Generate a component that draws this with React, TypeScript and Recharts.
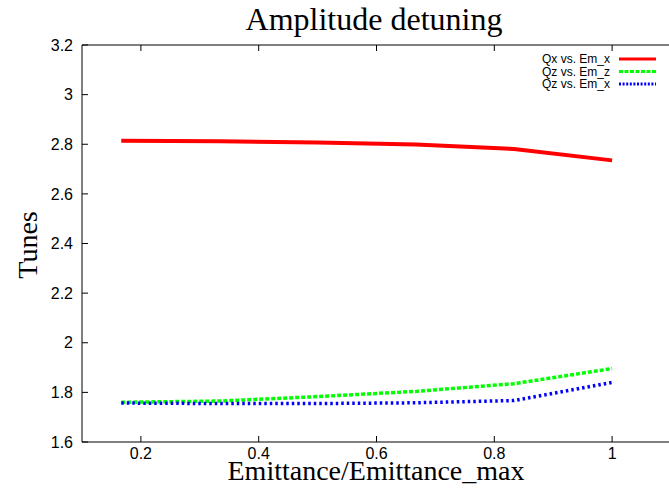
import { LineChart, Line, XAxis, YAxis } from 'recharts'

// emittance ratio (k/6)
const emittance = [1 / 6, 2 / 6, 3 / 6, 4 / 6, 5 / 6, 1]
const qxVsEmx = [2.814, 2.812, 2.807, 2.799, 2.781, 2.735]
const qzVsEmz = [1.76, 1.765, 1.783, 1.804, 1.835, 1.896]
const qzVsEmx = [1.757, 1.755, 1.755, 1.758, 1.767, 1.84]

const xTicks = [0.2, 0.4, 0.6, 0.8, 1]
const yTicks = [1.6, 1.8, 2, 2.2, 2.4, 2.6, 2.8, 3, 3.2]

const seriesNames = ['Qx vs. Em_x', 'Qz vs. Em_z', 'Qz vs. Em_x']
const seriesColors = ['#ff0000', '#00ff00', '#0000ff']
const seriesDash = [undefined, '4 2', '2.5 3']
const legendDash = [undefined, '4 1.5', '2 1.6']

const data = emittance.map((e, i) => ({
  e,
  qx: qxVsEmx[i],
  qzz: qzVsEmz[i],
  qzx: qzVsEmx[i]
}))

const tickFont = { fontSize: 16, fontFamily: '"Liberation Sans", Arial, sans-serif', fill: '#000' }
const serif = '"Liberation Serif", "Times New Roman", serif'

export default function App() {
  return (
    <div style={{ position: 'fixed', left: 0, top: 0, width: 669, height: 489, overflow: 'hidden', background: '#fff' }}>
      <LineChart
        width={680}
        height={489}
        data={data}
        margin={{ top: 44, right: 8, left: 0, bottom: 0 }}
      >
        <XAxis
          dataKey="e"
          type="number"
          domain={[0.1, 1.1]}
          ticks={xTicks}
          height={47}
          tick={tickFont}
          tickSize={-6}
          tickMargin={12}
          stroke="#000"
          allowDataOverflow
        />
        <XAxis
          xAxisId="top"
          orientation="top"
          dataKey="e"
          type="number"
          domain={[0.1, 1.1]}
          ticks={xTicks}
          height={1}
          tickFormatter={() => ''}
          tickSize={-6}
          stroke="#000"
        />
        <YAxis
          type="number"
          domain={[1.6, 3.2]}
          ticks={yTicks}
          width={82}
          tick={tickFont}
          tickSize={-6}
          tickMargin={15}
          stroke="#000"
          allowDataOverflow
        />
        <YAxis
          yAxisId="right"
          orientation="right"
          type="number"
          domain={[1.6, 3.2]}
          ticks={yTicks}
          width={1}
          tickFormatter={() => ''}
          tickSize={-6}
          stroke="#000"
        />
        <Line dataKey="qx" stroke={seriesColors[0]} strokeWidth={4} dot={false} type="linear" isAnimationActive={false} />
        <Line dataKey="qzz" stroke={seriesColors[1]} strokeWidth={3.5} strokeDasharray={seriesDash[1]} dot={false} type="linear" isAnimationActive={false} />
        <Line dataKey="qzx" stroke={seriesColors[2]} strokeWidth={3.5} strokeDasharray={seriesDash[2]} dot={false} type="linear" isAnimationActive={false} />
      </LineChart>
      <svg width={669} height={489} style={{ position: 'absolute', left: 0, top: 0, pointerEvents: 'none' }}>
        <text x={374} y={30} textAnchor="middle" fontFamily={serif} fontSize={32}>Amplitude detuning</text>
        <text x={376} y={480} textAnchor="middle" fontFamily={serif} fontSize={28}>Emittance/Emittance_max</text>
        <text transform="translate(37,245) rotate(-90)" textAnchor="middle" fontFamily={serif} fontSize={28}>Tunes</text>
        {seriesNames.map((name, i) => (
          <g key={name}>
            <text x={610} y={63 + i * 12.5} textAnchor="end" fontFamily='"Liberation Sans", Arial, sans-serif' fontSize={12}>{name}</text>
            <line x1={619} x2={656} y1={59 + i * 12.5} y2={59 + i * 12.5} stroke={seriesColors[i]} strokeWidth={3} strokeDasharray={legendDash[i]} />
          </g>
        ))}
      </svg>
    </div>
  )
}
